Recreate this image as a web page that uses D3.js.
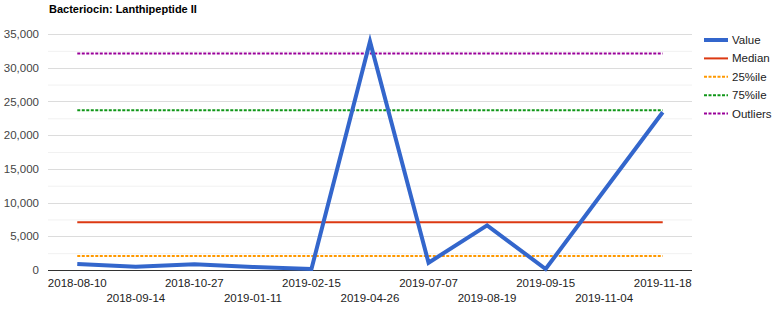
<!DOCTYPE html>
<html>
<head>
<meta charset="utf-8">
<script src="https://cdn.jsdelivr.net/npm/d3@7"></script>
<style>
  body { margin: 0; background: #fff; }
  svg { font-family: "Liberation Sans", Arial, sans-serif; }
</style>
</head>
<body>
<div id="chart"></div>
<script>
// ---------- Data ---------- //
var dates = ["2018-08-10", "2018-09-14", "2018-10-27", "2019-01-11", "2019-02-15", "2019-04-26",
             "2019-07-07", "2019-08-19", "2019-09-15", "2019-11-04", "2019-11-18"];
var values = [880, 500, 850, 450, 150, 33900, 1080, 6620, 150, 11800, 23400];
var median = 7070;
var pct25 = 2070;
var pct75 = 23700;
var outliers = 32100;
var yTicks = [0, 5000, 10000, 15000, 20000, 25000, 30000, 35000];

var width = 776, height = 311;
var margin = { top: 34, right: 84, bottom: 41, left: 48 };

var svg = d3.select("#chart").append("svg")
  .attr("width", width)
  .attr("height", height);

var x = d3.scaleBand()
  .domain(dates)
  .range([margin.left, width - margin.right]);

var y = d3.scaleLinear()
  .domain([0, 35000])
  .range([height - margin.bottom, margin.top]);

var cx = d => x(d) + x.bandwidth() / 2;

// grid (minor + major)
var minor = d3.range(2500, 35000, 5000);
svg.append("g")
  .selectAll("line")
  .data(minor)
  .join("line")
  .attr("x1", margin.left).attr("x2", width - margin.right)
  .attr("y1", d => y(d) + 0.5).attr("y2", d => y(d) + 0.5)
  .attr("stroke", "#f1f1f1");

svg.append("g")
  .selectAll("line")
  .data(yTicks.slice(1))
  .join("line")
  .attr("x1", margin.left).attr("x2", width - margin.right)
  .attr("y1", d => Math.round(y(d)) + 0.5).attr("y2", d => Math.round(y(d)) + 0.5)
  .attr("stroke", "#dcdcdc");

// y axis labels
var yAxis = g => g
  .attr("transform", `translate(${margin.left},0)`)
  .call(d3.axisLeft(y).tickValues(yTicks).tickSize(0).tickPadding(9).tickFormat(d3.format(",")))
  .call(g => g.select(".domain").remove())
  .call(g => g.selectAll("text").attr("fill", "#444").attr("font-size", 11.5)
    .attr("font-family", "Liberation Sans, Arial, sans-serif"));
svg.append("g").call(yAxis);

// x axis labels, alternate rows
svg.append("g")
  .selectAll("text")
  .data(dates)
  .join("text")
  .attr("x", d => cx(d))
  .attr("y", (d, i) => i % 2 == 0 ? 287 : 302)
  .attr("text-anchor", "middle")
  .attr("font-size", 11.5)
  .attr("fill", "#222")
  .text(d => d);

// reference lines
var refs = [
  { name: "Median", v: median, color: "#dc3912", dash: null, w: 2 },
  { name: "25%ile", v: pct25, color: "#ff9900", dash: "3,1.5", w: 2 },
  { name: "75%ile", v: pct75, color: "#109618", dash: "3,1.5", w: 2 },
  { name: "Outliers", v: outliers, color: "#990099", dash: "3,1.5", w: 2 }
];
svg.append("g")
  .selectAll("line")
  .data(refs)
  .join("line")
  .attr("x1", cx(dates[0])).attr("x2", cx(dates[dates.length - 1]))
  .attr("y1", d => y(d.v)).attr("y2", d => y(d.v))
  .attr("stroke", d => d.color)
  .attr("stroke-width", d => d.w)
  .attr("stroke-dasharray", d => d.dash);

// baseline
svg.append("line")
  .attr("x1", margin.left).attr("x2", width - margin.right)
  .attr("y1", y(0) + 0.5).attr("y2", y(0) + 0.5)
  .attr("stroke", "#333");

// value line
var line = d3.line()
  .x((d, i) => cx(dates[i]))
  .y(d => y(d));
svg.append("path")
  .datum(values)
  .attr("d", line)
  .attr("fill", "none")
  .attr("stroke", "#3366cc")
  .attr("stroke-width", 4)
  .attr("stroke-linejoin", "miter");

// title
svg.append("text")
  .attr("x", 49).attr("y", 13)
  .attr("font-size", 11)
  .attr("font-weight", "bold")
  .attr("fill", "#000")
  .text("Bacteriocin: Lanthipeptide II");

// legend
var legend = [{ name: "Value", color: "#3366cc", dash: null, w: 4 }].concat(refs);
var lg = svg.append("g")
  .selectAll("g")
  .data(legend)
  .join("g")
  .attr("transform", (d, i) => `translate(704,${40 + i * 18.4})`);
lg.append("line")
  .attr("x1", 0).attr("x2", 24)
  .attr("stroke", d => d.color)
  .attr("stroke-width", d => d.w)
  .attr("stroke-dasharray", d => d.dash);
lg.append("text")
  .attr("x", 28).attr("dy", "0.35em")
  .attr("font-size", 11.5)
  .attr("fill", "#222")
  .text(d => d.name);
</script>
</body>
</html>
